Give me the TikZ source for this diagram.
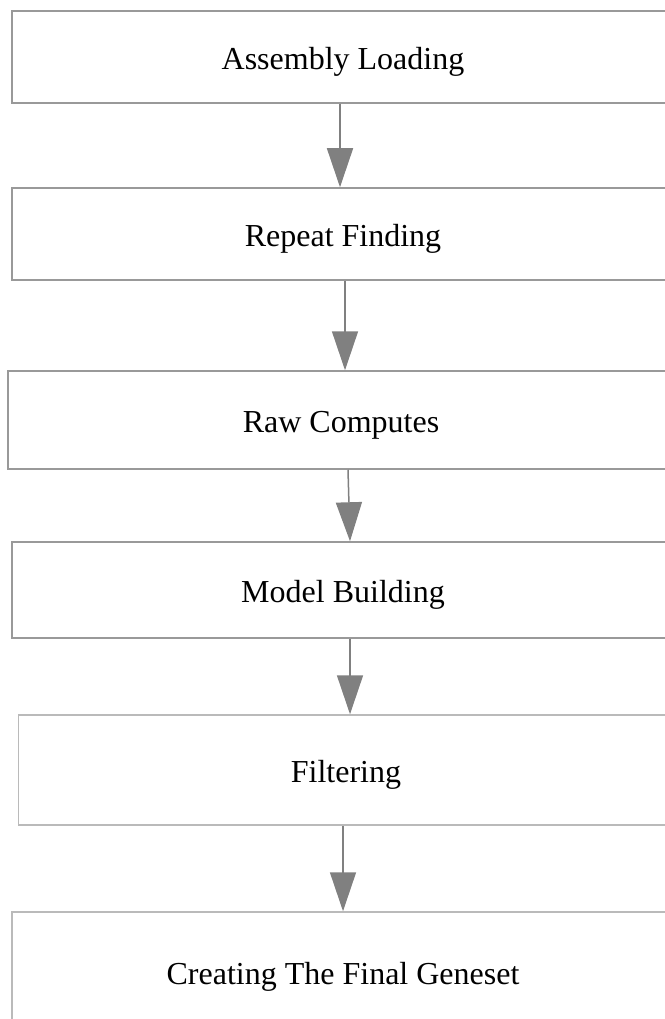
\documentclass[tikz,border=0pt]{standalone}
\usepackage{fontspec}
\setmainfont{Liberation Serif}
\usetikzlibrary{arrows.meta}

\begin{document}
\begin{tikzpicture}[x=1pt,y=-1pt,
    ->,>={Triangle[width=26pt,length=39pt]},
    stage/.style={draw=black!40,line width=1.5pt,rectangle,inner sep=0pt,
      minimum width=662pt,text height=32pt,text depth=7pt,
      font=\fontsize{32}{38}\selectfont},
    flow/.style={draw=black!50,line width=1.5pt,-{Triangle[width=26pt,length=39pt]},
      fill=black!50}]

  \useasboundingbox (0,0) rectangle (664,1019);

  \node[stage,minimum height=92pt]               (load)   at (343, 57) {Assembly Loading};
  \node[stage,minimum height=92pt]               (repeat) at (343,234) {Repeat Finding};
  \node[stage,minimum height=98pt,minimum width=666pt] (raw) at (341,420) {Raw Computes};
  \node[stage,minimum height=96pt]               (model)  at (343,590) {Model Building};
  \node[stage,minimum height=110pt,minimum width=655pt,draw=black!27] (filter) at (346,770) {Filtering};
  \node[stage,minimum height=120pt,draw=black!27] (final) at (343,972) {Creating The Final Geneset};

  \draw[flow] ([xshift=-3pt]load.south)   -- ([xshift=-3pt]repeat.north);
  \draw[flow] ([xshift=2pt]repeat.south)  -- ([xshift=4pt]raw.north);
  \draw[flow] ([xshift=7pt]raw.south)     -- ([xshift=7pt]model.north);
  \draw[flow] ([xshift=7pt]model.south)   -- ([xshift=4pt]filter.north);
  \draw[flow] ([xshift=-3pt]filter.south) -- (final.north);
\end{tikzpicture}
\end{document}
